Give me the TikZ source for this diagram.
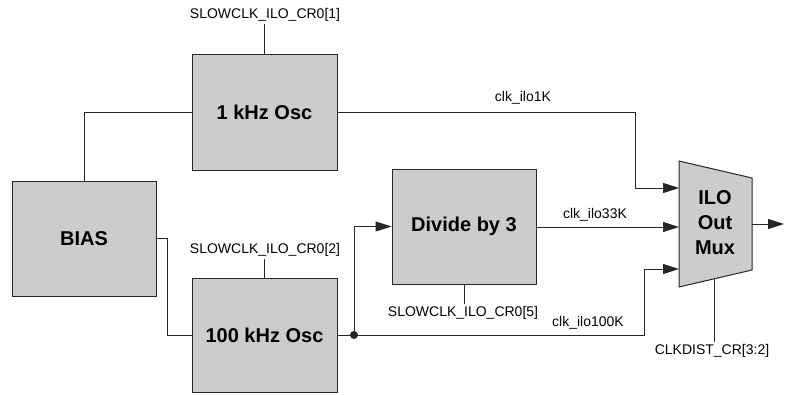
\documentclass[tikz,border=0pt]{standalone}
\usepackage{fontspec}
\setmainfont{Liberation Sans}
\usetikzlibrary{arrows.meta,calc}
\definecolor{boxgray}{HTML}{CCCCCC}
\definecolor{edge}{HTML}{262626}
\begin{document}
\begin{tikzpicture}[x=1pt,y=-1pt,
  blk/.style={draw=edge, fill=boxgray, line width=1pt, inner sep=0pt,
    font=\fontsize{20}{24}\selectfont\bfseries},
  lbl/.style={font=\fontsize{14}{16}\selectfont, inner sep=2pt},
  wire/.style={draw=edge, line width=1pt},
  arr/.style={wire, -{Triangle[length=16pt,width=10pt]}}]
\useasboundingbox (0,0) rectangle (785,394);

% blocks
\node[blk, minimum width=145pt, minimum height=116pt] (osc1) at (264.5,112) {1 kHz Osc};
\node[blk, minimum width=144pt, minimum height=115pt] (bias) at (84,238.5) {BIAS};
\node[blk, minimum width=145pt, minimum height=114pt] (osc100) at (264.5,335) {100 kHz Osc};
\node[blk, minimum width=144pt, minimum height=115pt] (div) at (464,226.5) {Divide by 3};

% mux
\coordinate (mtl) at (679,161);
\coordinate (mtr) at (752,178);
\coordinate (mbr) at (752,270);
\coordinate (mbl) at (679,287);
\draw[draw=edge, fill=boxgray, line width=1pt] (mtl) -- (mtr) -- (mbr) -- (mbl) -- cycle;
\node[font=\fontsize{20}{25}\selectfont\bfseries, align=center, inner sep=0pt] (mux) at (715,223) {ILO\\Out\\Mux};
\coordinate (in1) at (679,188);
\coordinate (in2) at (679,227);
\coordinate (in3) at (679,269);
\coordinate (mout) at (752,224);
\coordinate (mend) at (784,224);
\coordinate (msel) at ($(mbl)!0.493!(mbr)$);

% control labels
\node[lbl] (s1) at (265,15) {SLOWCLK\_ILO\_CR0[1]};
\node[lbl] (s2) at (265,250) {SLOWCLK\_ILO\_CR0[2]};
\node[lbl] (s5) at (463,313) {SLOWCLK\_ILO\_CR0[5]};
\node[lbl] (cd) at (712,351) {CLKDIST\_CR[3:2]};
\draw[wire] (s1.south -| osc1.north) -- (osc1.north);
\draw[wire] (s2.south -| osc100.north) -- (osc100.north);
\draw[wire] (div.south) -- (div.south |- s5.north);
\draw[wire] (msel) -- (msel |- cd.north);

% signal labels
\node[lbl] (l1) at (523,98) {clk\_ilo1K};
\node[lbl] (l33) at (595,215) {clk\_ilo33K};
\node[lbl] (l100) at (588,323) {clk\_ilo100K};

% connections
\coordinate (junc) at (354,335);
\draw[wire] (osc1.west) -| (bias.north);
\draw[wire] (bias.east) -- ++(11,0) |- (osc100.west);
\draw[wire] (osc100.east) -- (junc);
\draw[arr] (junc) -- (644,335) |- (in3);
\draw[arr] (junc) |- (div.west);
\draw[arr] (div.east |- in2) -- (in2);
\draw[arr] (osc1.east) -- (635,112) |- (in1);
\draw[arr] (mout) -- (mend);
\fill[edge] (junc) circle (4pt);
\end{tikzpicture}
\end{document}
